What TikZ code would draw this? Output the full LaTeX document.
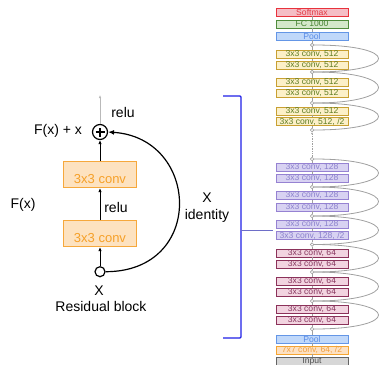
\documentclass[tikz,border=0pt]{standalone}
\usepackage{fontspec}
\setmainfont{Liberation Sans}
\usetikzlibrary{positioning, arrows.meta}

\definecolor{convfill}{RGB}{253,226,192}
\definecolor{convline}{RGB}{246,168,60}
\definecolor{convtext}{RGB}{246,160,40}
\definecolor{bracketblue}{RGB}{30,30,230}
\definecolor{tickblue}{RGB}{110,110,200}
\definecolor{skipgray}{RGB}{160,160,160}

\begin{document}
\begin{tikzpicture}[x=1pt, y=-1pt, font=\fontsize{14}{16}\selectfont,
    conv/.style={draw=convline, fill=convfill, text=convtext, line width=1pt,
      minimum width=73pt, minimum height=26pt, inner sep=0pt,
      text height=18pt, text depth=1pt, font=\fontsize{13}{15}\selectfont},
    layer/.style={draw, line width=0.9pt, minimum width=72pt, minimum height=8pt,
      inner sep=0pt, font=\fontsize{8.6}{8.6}\selectfont},
    softmax/.style={layer, draw={rgb,255:red,232;green,50;blue,60}, fill={rgb,255:red,245;green,190;blue,198}, text={rgb,255:red,225;green,60;blue,70}},
    fcl/.style={layer, draw={rgb,255:red,80;green,140;blue,60}, fill={rgb,255:red,212;green,232;blue,202}, text={rgb,255:red,70;green,130;blue,50}},
    pool/.style={layer, draw={rgb,255:red,100;green,150;blue,230}, fill={rgb,255:red,192;green,216;blue,250}, text={rgb,255:red,90;green,140;blue,230}},
    cfive/.style={layer, draw={rgb,255:red,200;green,160;blue,50}, fill={rgb,255:red,252;green,240;blue,200}, text={rgb,255:red,95;green,125;blue,35}},
    cone/.style={layer, draw={rgb,255:red,150;green,130;blue,210}, fill={rgb,255:red,216;green,210;blue,242}, text={rgb,255:red,140;green,130;blue,205}},
    csix/.style={layer, draw={rgb,255:red,140;green,50;blue,90}, fill={rgb,255:red,242;green,212;blue,224}, text={rgb,255:red,135;green,55;blue,95}},
    cseven/.style={layer, draw={rgb,255:red,245;green,165;blue,50}, fill={rgb,255:red,253;green,225;blue,195}, text={rgb,255:red,240;green,160;blue,65}},
    inlayer/.style={layer, draw={rgb,255:red,100;green,100;blue,100}, fill={rgb,255:red,215;green,215;blue,215}, text={rgb,255:red,80;green,80;blue,80}},
    junc/.style={circle, draw=skipgray, fill=white, line width=0.7pt, minimum size=3.5pt, inner sep=0pt},
    flow/.style={draw=skipgray, line width=0.7pt},
    skip/.style={draw=skipgray, line width=0.8pt},
    arr/.style={line width=0.8pt, -{Latex[length=4pt, width=3.5pt]}}]

    \useasboundingbox (0,0) rectangle (379,364);

    % residual block
    \node [draw, circle, line width=1.2pt, minimum size=15pt, inner sep=0pt] (plus) at (100,132) {};
    \draw [line width=1.8pt] ([xshift=-4.5pt]plus.center) -- ([xshift=4.5pt]plus.center)
        ([yshift=-4.5pt]plus.center) -- ([yshift=4.5pt]plus.center);
    \node [conv, below=21pt of plus] (convb) {3x3 conv};
    \node [conv, below=32pt of convb] (conva) {3x3 conv};
    \node [draw, circle, line width=1.2pt, minimum size=10pt, inner sep=0pt, below=19pt of conva] (xin) {};
    \coordinate (top) at (100,95);

    \node (relutop) at (123,112) {relu};
    \node (relumid) at (116,207) {relu};
    \node (sum) at (58,131) {F(x) + x};
    \node (fx) at (23,205) {F(x)};
    \node (xlab) at (99,291) {X};
    \node (rblock) at (101,306) {Residual block};
    \node (xid) at (207,198) {X};
    \node (ident) at (207,216) {identity};

    \draw [arr, draw=gray!55, -{Latex[length=3pt, width=2.5pt]}] (plus) -- (top);
    \draw [arr] (convb) -- (plus);
    \draw [arr] (conva) -- (convb);
    \draw [arr] (xin) -- (conva);
    \draw [line width=1.2pt, -{Latex[length=6pt, width=5pt]}]
        (xin.east) .. controls +(100,0) and +(92,6) .. (plus.east);

    % bracket
    \draw [bracketblue, line width=1.3pt, rounded corners=1pt] (223,96) -- (241,96) -- (241,338) -- (223,338);
    \draw [tickblue, line width=1pt] (241,230) -- (273,230);

    % network column
    \node [softmax] (smax) at (312,12) {Softmax};
    \node [fcl] (fc) at (312,24) {FC 1000};
    \node [pool] (poolt) at (312,36) {Pool};
    \node [junc] (j1) at (312,45) {};
    \node [cfive] (c5a) at (312,54.5) {3x3 conv, 512};
    \node [cfive] (c5b) at (312,65) {3x3 conv, 512};
    \node [junc] (j2) at (312,72) {};
    \node [cfive] (c5c) at (312,82.5) {3x3 conv, 512};
    \node [cfive] (c5d) at (312,93) {3x3 conv, 512};
    \node [junc] (j3) at (312,103) {};
    \node [cfive] (c5e) at (312,111) {3x3 conv, 512};
    \node [cfive] (c5f) at (312,121.5) {3x3 conv, 512, /2};
    \node [junc] (j4) at (312,130) {};
    \node [junc] (j5) at (312,159) {};
    \node [cone] (c1a) at (312,167) {3x3 conv, 128};
    \node [cone] (c1b) at (312,178.5) {3x3 conv, 128};
    \node [junc] (j6) at (312,187) {};
    \node [cone] (c1c) at (312,195.5) {3x3 conv, 128};
    \node [cone] (c1d) at (312,207) {3x3 conv, 128};
    \node [junc] (j7) at (312,216) {};
    \node [cone] (c1e) at (312,224) {3x3 conv, 128};
    \node [cone] (c1f) at (312,235.5) {3x3 conv, 128, /2};
    \node [junc] (j8) at (312,244.5) {};
    \node [csix] (c6a) at (312,253) {3x3 conv, 64};
    \node [csix] (c6b) at (312,264) {3x3 conv, 64};
    \node [junc] (j9) at (312,272) {};
    \node [csix] (c6c) at (312,281.5) {3x3 conv, 64};
    \node [csix] (c6d) at (312,292.5) {3x3 conv, 64};
    \node [junc] (j10) at (312,301) {};
    \node [csix] (c6e) at (312,309.5) {3x3 conv, 64};
    \node [csix] (c6f) at (312,320.5) {3x3 conv, 64};
    \node [junc] (j11) at (312,329) {};
    \node [pool] (poolb) at (312,339) {Pool};
    \node [cseven] (c7) at (312,350) {7x7 conv, 64, /2};
    \node [inlayer] (inp) at (312,361) {Input};

    \draw [flow] (inp) -- (c7) -- (poolb) -- (j11) -- (c6f) -- (c6e) -- (j10) -- (c6d) -- (c6c) -- (j9)
        -- (c6b) -- (c6a) -- (j8) -- (c1f) -- (c1e) -- (j7) -- (c1d) -- (c1c) -- (j6) -- (c1b) -- (c1a) -- (j5);
    \draw [flow] (j4) -- (c5f) -- (c5e) -- (j3) -- (c5d) -- (c5c) -- (j2) -- (c5b) -- (c5a) -- (j1)
        -- (poolt) -- (fc) -- (smax);
    \draw [flow, densely dotted, -{Latex[length=2pt, width=2pt]}] (j5) -- (j4);

    \draw [skip] (j2) .. controls +(88,0) and +(88,0) .. (j1);
    \draw [skip] (j3) .. controls +(88,0) and +(88,0) .. (j2);
    \draw [skip] (j4) .. controls +(88,0) and +(88,0) .. (j3);
    \draw [skip] (j6) .. controls +(88,0) and +(88,0) .. (j5);
    \draw [skip] (j7) .. controls +(88,0) and +(88,0) .. (j6);
    \draw [skip] (j8) .. controls +(88,0) and +(88,0) .. (j7);
    \draw [skip] (j9) .. controls +(88,0) and +(88,0) .. (j8);
    \draw [skip] (j10) .. controls +(88,0) and +(88,0) .. (j9);
    \draw [skip] (j11) .. controls +(88,0) and +(88,0) .. (j10);
\end{tikzpicture}
\end{document}
